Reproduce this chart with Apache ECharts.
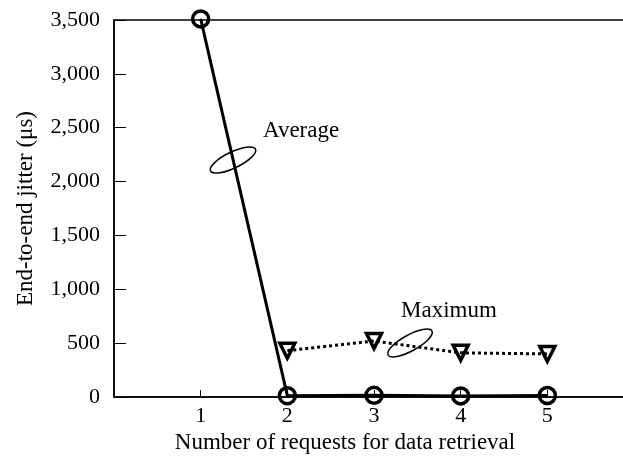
<!DOCTYPE html>
<html>
<head>
<meta charset="utf-8">
<script src="https://cdn.jsdelivr.net/npm/echarts@6/dist/echarts.min.js"></script>
<style>
  html, body { margin: 0; padding: 0; background: #fff; }
  #chart { width: 623px; height: 459px; }
</style>
</head>
<body>
<div id="chart"></div>
<script>
const requests = [1, 2, 3, 4, 5];
const averageJitter = [3510, 12, 16, 10, 14];
const maximumJitter = [null, 430, 520, 410, 400];
const yTicks = [0, 500, 1000, 1500, 2000, 2500, 3000, 3500];

const font = "Liberation Serif";

function pairs(values) {
  return requests.map((r, i) => [r, values[i]]).filter((p) => p[1] != null);
}

const chart = echarts.init(document.getElementById("chart"));

const option = {
  animation: false,
  grid: {
    left: 114,
    top: 20,
    width: 520,
    height: 377,
    outerBoundsMode: "none",
    containLabel: false,
    show: true,
    borderColor: "#000",
    borderWidth: 1.5,
  },
  xAxis: {
    type: "value",
    min: 0,
    max: 6,
    interval: 1,
    name: "Number of requests for data retrieval",
    nameLocation: "middle",
    nameGap: 30,
    nameTextStyle: { fontFamily: font, fontSize: 23, color: "#000", padding: [0, 58, 0, 0] },
    axisLine: { lineStyle: { color: "#000", width: 1.5 } },
    axisTick: { inside: true, length: 7, lineStyle: { color: "#000", width: 1 } },
    axisLabel: {
      fontFamily: font,
      fontSize: 22,
      color: "#000",
      margin: 8,
      formatter: (v) => (requests.includes(v) ? String(v) : ""),
    },
    splitLine: { show: false },
  },
  yAxis: {
    type: "value",
    min: yTicks[0],
    max: yTicks[yTicks.length - 1],
    interval: 500,
    name: "End-to-end jitter (μs)",
    nameLocation: "middle",
    nameGap: 77,
    nameTextStyle: { fontFamily: font, fontSize: 23, color: "#000" },
    axisLine: { lineStyle: { color: "#000", width: 1.5 } },
    axisTick: { inside: true, length: 12, lineStyle: { color: "#000", width: 1 } },
    axisLabel: {
      fontFamily: font,
      fontSize: 22,
      color: "#000",
      margin: 14,
      formatter: (v) => v.toLocaleString("en-US"),
    },
    splitLine: { show: false },
  },
  series: [
    {
      name: "Maximum",
      type: "line",
      data: pairs(maximumJitter),
      symbol: "triangle",
      symbolRotate: 180,
      symbolSize: 15,
      lineStyle: { color: "#000", width: 3, type: [3, 3] },
      itemStyle: { color: "rgba(0,0,0,0)", borderColor: "#000", borderWidth: 3.5 },
      z: 3,
    },
    {
      name: "Average",
      type: "line",
      data: pairs(averageJitter),
      clip: false,
      symbol: "circle",
      symbolSize: 16,
      lineStyle: { color: "#000", width: 3 },
      itemStyle: { color: "rgba(0,0,0,0)", borderColor: "#000", borderWidth: 3.5 },
      z: 4,
    },
  ],
  graphic: [
    {
      type: "ellipse",
      shape: { cx: 0, cy: 0, rx: 25, ry: 8 },
      x: 233, y: 160, rotation: 0.45,
      style: { fill: "none", stroke: "#000", lineWidth: 1.5 },
      z: 10,
    },
    {
      type: "text",
      x: 263, y: 119,
      style: { text: "Average", font: "23px " + font, fill: "#000" },
    },
    {
      type: "ellipse",
      shape: { cx: 0, cy: 0, rx: 25, ry: 8 },
      x: 410, y: 343, rotation: 0.5,
      style: { fill: "none", stroke: "#000", lineWidth: 1.5 },
      z: 10,
    },
    {
      type: "text",
      x: 401, y: 299,
      style: { text: "Maximum", font: "23px " + font, fill: "#000" },
    },
  ],
};

chart.setOption(option);
</script>
</body>
</html>
